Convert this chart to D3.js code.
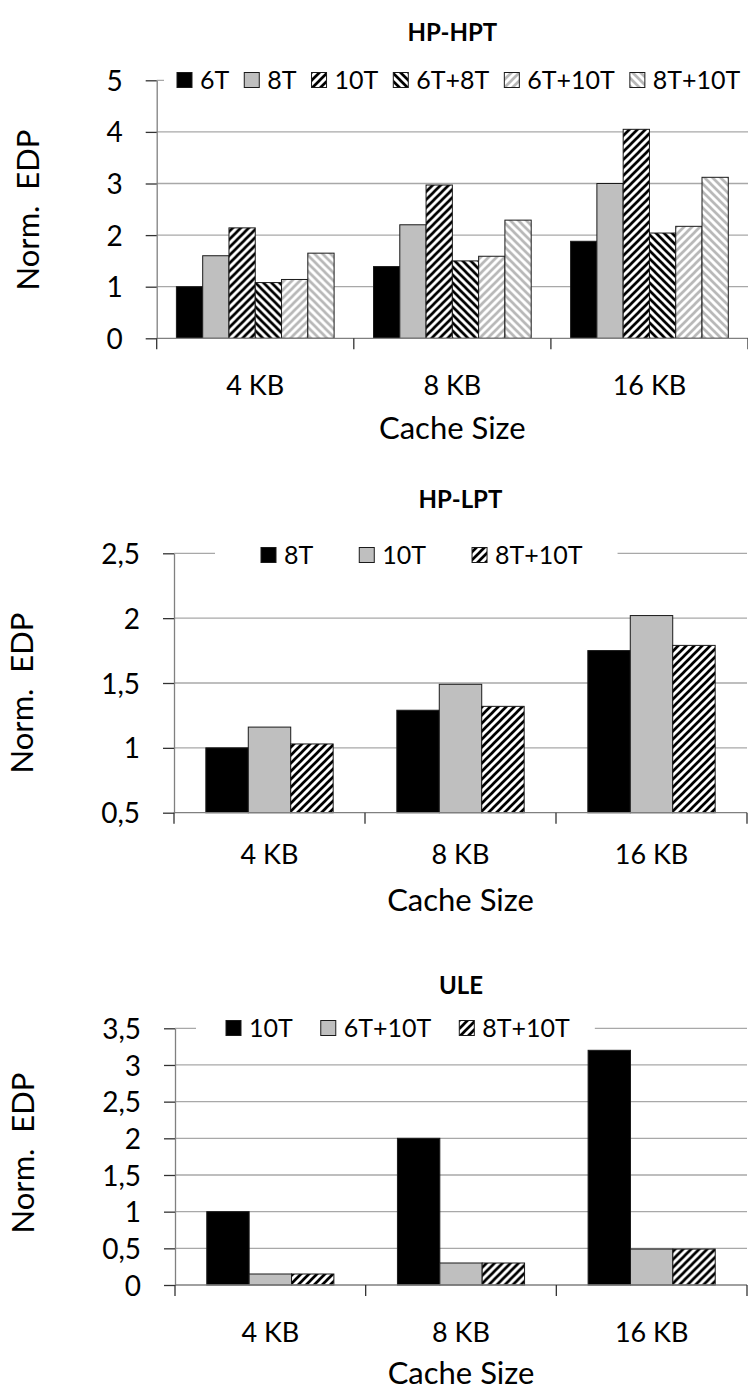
<!DOCTYPE html>
<html>
<head>
<meta charset="utf-8">
<script src="https://cdn.jsdelivr.net/npm/d3@7"></script>
<style>
  body { margin: 0; background: #fff; }
  svg { display: block; }
  text { font-family: Lato, "Open Sans", sans-serif; fill: #000; }
</style>
</head>
<body>
<svg id="chart" width="748" height="1392"></svg>
<script>
// ---- data ----
const categories = ["4 KB", "8 KB", "16 KB"];

// HP-HPT
const hptSeries = ["6T", "8T", "10T", "6T+8T", "6T+10T", "8T+10T"];
const hpt6T    = [1.00, 1.39, 1.88];
const hpt8T    = [1.60, 2.20, 3.00];
const hpt10T   = [2.14, 2.97, 4.05];
const hpt6T8T  = [1.08, 1.50, 2.04];
const hpt6T10T = [1.14, 1.59, 2.17];
const hpt8T10T = [1.65, 2.29, 3.12];
const hptTicks = [0, 1, 2, 3, 4, 5];

// HP-LPT
const lptSeries = ["8T", "10T", "8T+10T"];
const lpt8T    = [1.00, 1.29, 1.75];
const lpt10T   = [1.16, 1.49, 2.02];
const lpt8T10T = [1.03, 1.32, 1.79];
const lptTicks = [0.5, 1, 1.5, 2, 2.5];

// ULE
const uleSeries = ["10T", "6T+10T", "8T+10T"];
const ule10T   = [1.00, 2.00, 3.20];
const ule6T10T = [0.15, 0.30, 0.49];
const ule8T10T = [0.15, 0.30, 0.49];
const uleTicks = [0, 0.5, 1, 1.5, 2, 2.5, 3, 3.5];

// ---- drawing ----
const svg = d3.select("#chart");
const locale = d3.formatLocale({ decimal: ",", thousands: ".", grouping: [3], currency: ["", ""] });
const fmt = v => locale.format("~g")(v);

// fill patterns: diagonal hatches in black and grey
const defs = svg.append("defs");
function hatch(id, dir, color) {
  const p = defs.append("pattern").attr("id", id)
    .attr("patternUnits", "userSpaceOnUse").attr("width", 8).attr("height", 8);
  p.append("rect").attr("width", 8).attr("height", 8).attr("fill", "#fff");
  const d = dir === "up"
    ? "M-2,2 L2,-2 M0,8 L8,0 M6,10 L10,6"
    : "M-2,6 L2,10 M0,0 L8,8 M6,-2 L10,2";
  p.append("path").attr("d", d).attr("stroke", color).attr("stroke-width", 2.7);
}
hatch("upBlack", "up", "#000");
hatch("downBlack", "down", "#000");
hatch("upGrey", "up", "#b8b8b8");
hatch("downGrey", "down", "#b8b8b8");

const FILL = {
  black: "#000",
  grey: "#bfbfbf",
  upBlack: "url(#upBlack)",
  downBlack: "url(#downBlack)",
  upGrey: "url(#upGrey)",
  downGrey: "url(#downGrey)"
};

function drawChart(spec) {
  const { title, series, values, ticks, fills, box, lay } = spec;
  const g = svg.append("g");

  const x0 = d3.scaleBand().domain(categories).range([box.left, box.right]);
  const x1 = d3.scaleBand().domain(series).range([0, x0.bandwidth()])
    .paddingInner(0).paddingOuter(0.75);
  const y = d3.scaleLinear().domain([ticks[0], ticks[ticks.length - 1]])
    .range([box.bottom, box.top]);

  // title
  g.append("text").attr("x", (box.left + box.right) / 2).attr("y", lay.titleY)
    .attr("text-anchor", "middle").attr("font-weight", "bold").attr("font-size", 24)
    .text(title);

  // gridlines
  g.append("g").selectAll("line").data(ticks.slice(1)).join("line")
    .attr("x1", box.left).attr("x2", box.right)
    .attr("y1", d => y(d)).attr("y2", d => y(d))
    .attr("stroke", "#a8a8a8").attr("stroke-width", 1.3);

  // bars
  const rows = categories.map((c, i) => series.map((s, j) => ({ c, s, j, v: values[j][i] })));
  g.append("g").selectAll("g").data(rows).join("g")
    .attr("transform", d => `translate(${x0(d[0].c)},0)`)
    .selectAll("rect").data(d => d).join("rect")
    .attr("x", d => x1(d.s)).attr("width", x1.bandwidth())
    .attr("y", d => y(d.v)).attr("height", d => y(ticks[0]) - y(d.v))
    .attr("fill", d => FILL[fills[d.j]])
    .attr("stroke", "#1a1a1a").attr("stroke-width", 1);

  // y axis
  const ya = g.append("g").attr("transform", `translate(${box.left},0)`)
    .call(d3.axisLeft(y).tickValues(ticks).tickSize(11).tickSizeOuter(0)
      .tickPadding(23).tickFormat(fmt));
  ya.select(".domain").attr("stroke", "#808080").attr("stroke-width", 1.3);
  ya.selectAll(".tick line").attr("stroke", "#333").attr("stroke-width", 1.3);
  ya.selectAll(".tick text").attr("font-size", 28).attr("font-family", "Lato, sans-serif")
    .attr("dy", "0.36em");

  // x axis line and group boundary ticks
  g.append("line").attr("x1", box.left).attr("x2", box.right)
    .attr("y1", box.bottom).attr("y2", box.bottom)
    .attr("stroke", "#808080").attr("stroke-width", 1.3);
  const bounds = categories.map(c => x0(c)).concat([box.right]);
  g.append("g").selectAll("line").data(bounds).join("line")
    .attr("x1", d => d).attr("x2", d => d)
    .attr("y1", box.bottom).attr("y2", box.bottom + 11)
    .attr("stroke", "#333").attr("stroke-width", 1.3);

  // category labels
  const xa = g.append("g").attr("transform", `translate(0,${box.bottom})`)
    .call(d3.axisBottom(x0).tickSize(0).tickPadding(0));
  xa.select(".domain").remove();
  xa.selectAll(".tick text").attr("font-size", 27).attr("font-family", "Lato, sans-serif")
    .attr("dy", 0).attr("y", lay.catY - box.bottom).style("white-space", "pre");

  // axis titles
  g.append("text").attr("x", (box.left + box.right) / 2).attr("y", lay.xTitleY)
    .attr("text-anchor", "middle").attr("font-size", 31).text("Cache Size");
  g.append("text").attr("transform", `translate(${lay.yTitleX},${lay.yTitleY}) rotate(-90)`)
    .attr("text-anchor", "middle").attr("font-size", 31).style("white-space", "pre")
    .text("Norm.  EDP");

  // legend
  const lg = g.append("g");
  const bg = lg.append("rect").attr("fill", "#fff");
  let lx = lay.legX;
  const cy = lay.legY;
  series.forEach((s, j) => {
    lg.append("rect").attr("x", lx).attr("y", cy - 7.5).attr("width", 15).attr("height", 15)
      .attr("fill", FILL[fills[j]]).attr("stroke", "#1a1a1a").attr("stroke-width", 1);
    const t = lg.append("text").attr("x", lx + 23).attr("y", cy + 9)
      .attr("font-size", 25).text(s);
    lx += 23 + t.node().getComputedTextLength() + (j < series.length - 1 ? lay.legGap : 0);
  });
  bg.attr("x", lay.legX - lay.legPadL).attr("y", cy - 14)
    .attr("width", lx - lay.legX + lay.legPadL + lay.legPadR).attr("height", 28);
}

drawChart({
  title: "HP-HPT",
  series: hptSeries,
  values: [hpt6T, hpt8T, hpt10T, hpt6T8T, hpt6T10T, hpt8T10T],
  ticks: hptTicks,
  fills: ["black", "grey", "upBlack", "downBlack", "upGrey", "downGrey"],
  box: { left: 156.7, right: 748, top: 80.3, bottom: 338.3 },
  lay: { titleY: 41, catY: 395, xTitleY: 439, yTitleX: 39, yTitleY: 210,
         legX: 177, legY: 80, legGap: 15, legPadL: 13, legPadR: 10 }
});

drawChart({
  title: "HP-LPT",
  series: lptSeries,
  values: [lpt8T, lpt10T, lpt8T10T],
  ticks: lptTicks,
  fills: ["black", "grey", "upBlack"],
  box: { left: 174, right: 747, top: 553.3, bottom: 812.7 },
  lay: { titleY: 508, catY: 864, xTitleY: 911, yTitleX: 33, yTitleY: 693,
         legX: 261, legY: 555, legGap: 46, legPadL: 46, legPadR: 35 }
});

drawChart({
  title: "ULE",
  series: uleSeries,
  values: [ule10T, ule6T10T, ule8T10T],
  ticks: uleTicks,
  fills: ["black", "grey", "upBlack"],
  box: { left: 175, right: 747, top: 1028.3, bottom: 1285 },
  lay: { titleY: 994, catY: 1342, xTitleY: 1384, yTitleX: 33.5, yTitleY: 1153,
         legX: 226, legY: 1028, legGap: 28, legPadL: 30, legPadR: 25 }
});
</script>
</body>
</html>
